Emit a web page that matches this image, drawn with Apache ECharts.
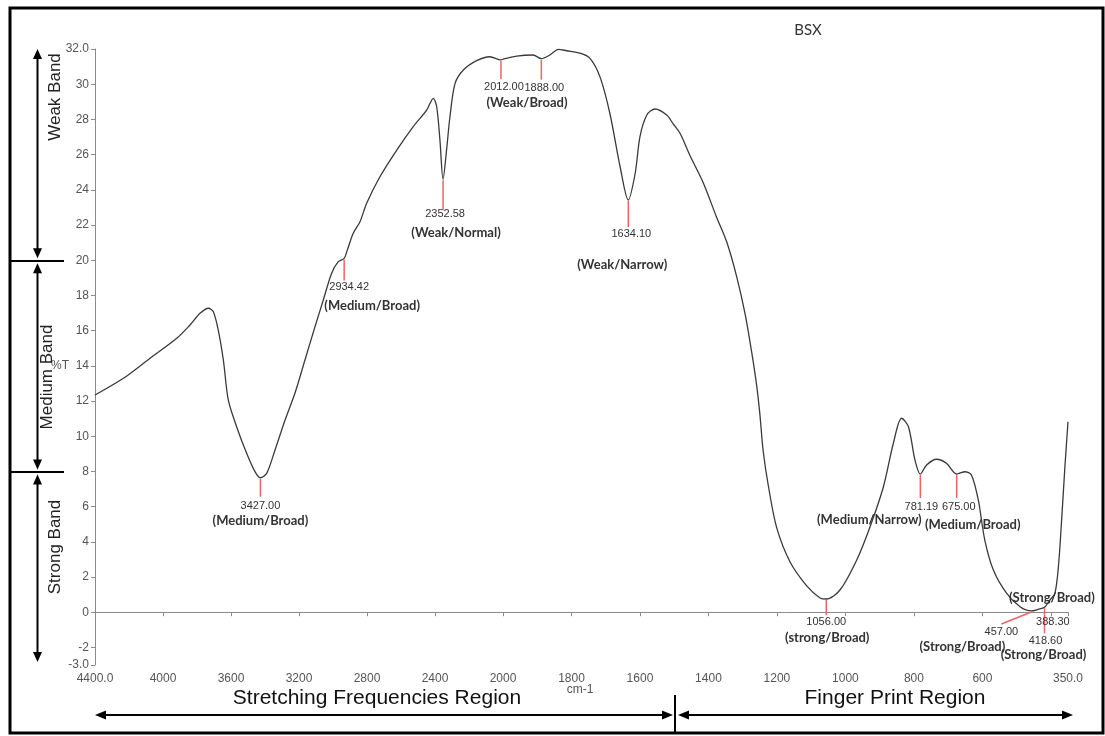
<!DOCTYPE html>
<html>
<head>
<meta charset="utf-8">
<script src="https://cdn.jsdelivr.net/npm/echarts@6/dist/echarts.min.js"></script>
<style>
  html, body { margin: 0; padding: 0; background: #fff; }
  #chart { width: 1105px; height: 736px; }
</style>
</head>
<body>
<div id="chart"></div>
<script>
// FTIR spectrum of BSX: transmittance (%T) against wavenumber (cm-1)
const wavenumbers = [
  4400, 4233, 4076, 3919, 3841, 3782, 3733, 3704, 3675, 3645, 3616, 3567, 3508, 3459, 3427,
  3390, 3341, 3282, 3224, 3165, 3106, 3057, 3008, 2969, 2934.42, 2915, 2881, 2841, 2802, 2724,
  2625, 2528, 2449, 2410, 2390, 2371, 2352.58, 2332, 2312, 2282, 2233, 2155, 2077, 2012, 2000,
  1960, 1912, 1888, 1863, 1838, 1814, 1775, 1746, 1717, 1688, 1658, 1634.10, 1614, 1600, 1580,
  1556, 1522, 1503, 1483, 1454, 1415, 1376, 1347, 1318, 1293, 1274, 1259, 1250, 1240, 1225,
  1201, 1162, 1113, 1074, 1056, 1016, 967, 928, 889, 860, 836, 816, 797, 781.19, 763,
  734, 705, 675, 651, 632, 612, 593, 568, 529, 490, 457, 437, 418.6, 403, 388.3,
  378, 368, 359, 350
];
const transmittance = [
  12.34, 13.29, 14.43, 15.56, 16.32, 16.98, 17.27, 17.07, 16.03, 14.33, 12.06, 10.54, 9.03, 7.99, 7.64,
  7.89, 9.22, 10.92, 12.44, 14.33, 16.22, 17.74, 19.26, 19.92, 20.10, 20.60, 21.53, 22.19, 23.23, 24.74,
  26.26, 27.59, 28.53, 29.20, 28.72, 26.83, 24.60, 26.26, 28.15, 30.05, 30.81, 31.34, 31.56, 31.38, 31.42,
  31.60, 31.66, 31.45, 31.66, 31.98, 31.90, 31.76, 31.47, 30.43, 28.35, 25.31, 23.42, 24.94, 27.02, 28.25,
  28.59, 28.25, 27.75, 27.21, 25.95, 24.39, 22.43, 21.06, 19.10, 16.95, 14.80, 12.85, 11.28, 9.13, 7.17,
  4.82, 2.87, 1.50, 0.81, 0.75, 1.26, 2.97, 4.86, 7.13, 9.60, 11.02, 10.54, 8.65, 7.85, 8.36,
  8.69, 8.46, 7.85, 7.98, 7.80, 6.38, 4.10, 2.40, 1.07, 0.31, 0.07, 0.16, 0.28, 0.69, 1.07,
  2.59, 5.43, 8.27, 10.82
];

// Labelled bands
const peakWavenumbers = [3427.00, 2934.42, 2352.58, 2012.00, 1888.00, 1634.10, 1056.00, 781.19, 675.00, 457.00, 418.60, 388.30];
const peakTransmittance = [7.64, 20.10, 24.60, 31.38, 31.45, 23.42, 0.75, 7.85, 7.85, 0.07, 0.28, 1.07];
const peakLabels = ['3427.00', '2934.42', '2352.58', '2012.00', '1888.00', '1634.10', '1056.00', '781.19', '675.00', '457.00', '418.60', '388.30'];
const peakNotes = ['(Medium/Broad)', '(Medium/Broad)', '(Weak/Normal)', '(Weak/Broad)', '', '(Weak/Narrow)',
  '(strong/Broad)', '(Medium/Narrow)', '(Medium/Broad)', '(Strong/Broad)', '(Strong/Broad)', '(Strong/Broad)'];

// Axis ticks
const yTickValues = [-3, -2, 0, 2, 4, 6, 8, 10, 12, 14, 16, 18, 20, 22, 24, 26, 28, 30, 32];
const xLabelsLow = [1800, 1600, 1400, 1200, 1000, 800, 600, 350];
const xTicksLow = [1800, 1600, 1400, 1200, 1000, 800, 600, 400, 350];

// Band-strength zones (%T limits) and region captions
const bandNames = ['Weak Band', 'Medium Band', 'Strong Band'];
const bandLimits = [32, 20, 8, -3];
const regionNames = ['Stretching Frequencies Region', 'Finger Print Region'];
const chartTitle = 'BSX';
const xAxisTitle = 'cm-1';
const yAxisTitle = '%T';

const SPLIT = 2000; // scale doubles below 2000 cm-1

const points = wavenumbers.map((w, i) => [w, transmittance[i]]);
const highPart = points.filter(p => p[0] >= SPLIT);
const lowPart = points.filter(p => p[0] <= SPLIT);

const tickFont = { fontFamily: 'Liberation Sans', fontSize: 12, color: '#555' };
const axisGrey = '#8a8a8a';

const fmtX = v => (v === 4400 ? '4400.0' : v === 350 ? '350.0' : String(v));
const fmtY = v => (v === 32 ? '32.0' : v === -3 ? '-3.0' : String(v));

const chart = echarts.init(document.getElementById('chart'), null, { renderer: 'canvas' });

const lineStyle = { color: '#3a3a3a', width: 1.3 };

chart.setOption({
  animation: false,
  backgroundColor: '#fff',
  grid: [
    { left: 95, top: 49, width: 408, height: 616 },
    { left: 503, top: 49, width: 565, height: 616 }
  ],
  xAxis: [
    {
      type: 'value', gridIndex: 0, min: SPLIT, max: 4400, interval: 400, inverse: true,
      axisLine: { show: true, lineStyle: { color: axisGrey, width: 1 } },
      axisTick: { show: true, length: 4, lineStyle: { color: axisGrey } },
      axisLabel: Object.assign({ margin: 8, formatter: fmtX, showMinLabel: true, showMaxLabel: true }, tickFont),
      splitLine: { show: false }
    },
    {
      type: 'value', gridIndex: 1, min: 350, max: SPLIT, inverse: true,
      axisLine: { show: true, lineStyle: { color: axisGrey, width: 1 } },
      axisTick: { show: true, length: 4, lineStyle: { color: axisGrey }, customValues: xTicksLow },
      axisLabel: Object.assign({ margin: 8, formatter: fmtX, customValues: xLabelsLow }, tickFont),
      splitLine: { show: false }
    }
  ],
  yAxis: [
    {
      type: 'value', gridIndex: 0, min: -3, max: 32,
      axisLine: { show: true, lineStyle: { color: axisGrey, width: 1 } },
      axisTick: { show: true, length: 4, lineStyle: { color: axisGrey }, customValues: yTickValues },
      axisLabel: Object.assign({ margin: 6, formatter: fmtY, customValues: yTickValues }, tickFont),
      splitLine: { show: false }
    },
    {
      type: 'value', gridIndex: 1, min: -3, max: 32, show: false,
      splitLine: { show: false }
    }
  ],
  series: [
    {
      type: 'line', xAxisIndex: 0, yAxisIndex: 0, data: highPart,
      symbol: 'none', smooth: 0.3, lineStyle: lineStyle
    },
    {
      type: 'line', xAxisIndex: 1, yAxisIndex: 1, data: lowPart,
      symbol: 'none', smooth: 0.3, lineStyle: lineStyle
    }
  ]
});

// pixel position of a spectrum point through the proper grid
function toPx(w, v) {
  const g = w >= SPLIT ? 0 : 1;
  return chart.convertToPixel({ xAxisIndex: g, yAxisIndex: g }, [w, v]);
}
const yPx = v => chart.convertToPixel({ yAxisIndex: 0 }, v);

// annotation layout per band: [tickDx, tickDy, numberDx, numberDy, noteDx, noteDy]
const peakLayout = [
  [0, 19, 0, 28, 0, 43],
  [0, 22, 5, 29, 28, 47],
  [0, 31, 2, 35, 13, 54],
  [0, 19, 3, 27, 26, 43],
  [0, 21, 3, 29, 0, 0],
  [0, 27, 3, 34, -6, 65],
  [0, 16, 0, 23, 1, 39],
  [0, 24, 1, 33, -51, 46],
  [0, 24, 2, 33, 16, 51],
  [-30, 13, -30, 21, -69, 36],
  [0, 26, 1, 34, -1, 48],
  [null, null, -2, 29, -3, 4]
];

const red = '#ee6464';
const numFont = { fontFamily: 'Liberation Sans', fontSize: 11, fill: '#333' };
const noteFont = { fontFamily: 'Lato', fontWeight: 'bold', fontSize: 13, fill: '#333' };

const graphics = [];

peakWavenumbers.forEach((w, i) => {
  const [px, py] = toPx(w, peakTransmittance[i]);
  const L = peakLayout[i];
  if (L[0] !== null) {
    graphics.push({
      type: 'line', z: 50,
      shape: { x1: px, y1: py + 1, x2: px + L[0], y2: py + L[1] },
      style: { stroke: red, lineWidth: 1.5 }
    });
  }
  graphics.push({
    type: 'text', z: 60, x: px + L[2], y: py + L[3],
    style: Object.assign({ text: peakLabels[i], textAlign: 'center', textVerticalAlign: 'middle' }, numFont)
  });
  if (peakNotes[i]) {
    graphics.push({
      type: 'text', z: 60, x: px + L[4], y: py + L[5],
      style: Object.assign({ text: peakNotes[i], textAlign: 'center', textVerticalAlign: 'middle' }, noteFont)
    });
  }
});

// arrow helpers
function head(tx, ty, dir, len, half) {
  let pts;
  if (dir === 'up') pts = [[tx, ty], [tx - half, ty + len], [tx + half, ty + len]];
  else if (dir === 'down') pts = [[tx, ty], [tx - half, ty - len], [tx + half, ty - len]];
  else if (dir === 'left') pts = [[tx, ty], [tx + len, ty - half], [tx + len, ty + half]];
  else pts = [[tx, ty], [tx - len, ty - half], [tx - len, ty + half]];
  return { type: 'polygon', z: 70, shape: { points: pts }, style: { fill: '#000' } };
}
function vArrow(x, y1, y2) {
  return [
    { type: 'line', z: 70, shape: { x1: x, y1: y1 + 6, x2: x, y2: y2 - 6 }, style: { stroke: '#000', lineWidth: 2 } },
    head(x, y1, 'up', 10, 4.5),
    head(x, y2, 'down', 10, 4.5)
  ];
}
function hArrow(y, x1, x2) {
  return [
    { type: 'line', z: 70, shape: { x1: x1 + 6, y1: y, x2: x2 - 6, y2: y }, style: { stroke: '#000', lineWidth: 2 } },
    head(x1, y, 'left', 11, 4.5),
    head(x2, y, 'right', 11, 4.5)
  ];
}

// band-strength scale at the left
const arrowX = 37.5;
const bandTextPos = [[55, 97], [47, 377], [55, 547]];
for (let b = 0; b < bandNames.length; b++) {
  const top = yPx(bandLimits[b]) + (b === 0 ? 0 : 3);
  const bottom = yPx(bandLimits[b + 1]) - (b === bandNames.length - 1 ? 3 : 2);
  graphics.push(...vArrow(arrowX, top, bottom));
  graphics.push({
    type: 'text', z: 70, x: bandTextPos[b][0], y: bandTextPos[b][1], rotation: Math.PI / 2,
    style: { text: bandNames[b], fontFamily: 'Liberation Sans', fontSize: 17, fill: '#222', textAlign: 'center', textVerticalAlign: 'middle' }
  });
}
[bandLimits[1], bandLimits[2]].forEach(v => {
  const y = Math.round(yPx(v)) + 1;
  graphics.push({ type: 'line', z: 70, shape: { x1: 10, y1: y, x2: 64, y2: y }, style: { stroke: '#000', lineWidth: 2 } });
});

// axis titles and chart title
graphics.push({
  type: 'text', x: 60, y: 366,
  style: { text: yAxisTitle, fontFamily: 'Liberation Sans', fontSize: 12, fill: '#555', textAlign: 'center', textVerticalAlign: 'middle' }
});
graphics.push({
  type: 'text', x: 580, y: 690,
  style: { text: xAxisTitle, fontFamily: 'Liberation Sans', fontSize: 12, fill: '#555', textAlign: 'center', textVerticalAlign: 'middle' }
});
graphics.push({
  type: 'text', x: 808, y: 30,
  style: { text: chartTitle, fontFamily: 'Lato', fontSize: 15, fill: '#333', textAlign: 'center', textVerticalAlign: 'middle' }
});

// spectral regions along the bottom
const splitX = 675;
graphics.push({
  type: 'text', x: 377, y: 698,
  style: { text: regionNames[0], fontFamily: 'Liberation Sans', fontSize: 21, fill: '#111', textAlign: 'center', textVerticalAlign: 'middle' }
});
graphics.push({
  type: 'text', x: 895, y: 698,
  style: { text: regionNames[1], fontFamily: 'Liberation Sans', fontSize: 21, fill: '#111', textAlign: 'center', textVerticalAlign: 'middle' }
});
graphics.push(...hArrow(715, 95, splitX - 2));
graphics.push(...hArrow(715, splitX + 3, 1073));
graphics.push({ type: 'line', z: 70, shape: { x1: splitX, y1: 695, x2: splitX, y2: 733 }, style: { stroke: '#000', lineWidth: 2 } });

// frame
graphics.push({
  type: 'rect', z: 80, shape: { x: 10, y: 8, width: 1093, height: 725 },
  style: { fill: 'none', stroke: '#000', lineWidth: 3 }
});

chart.setOption({ graphic: { elements: graphics } });
</script>
</body>
</html>
